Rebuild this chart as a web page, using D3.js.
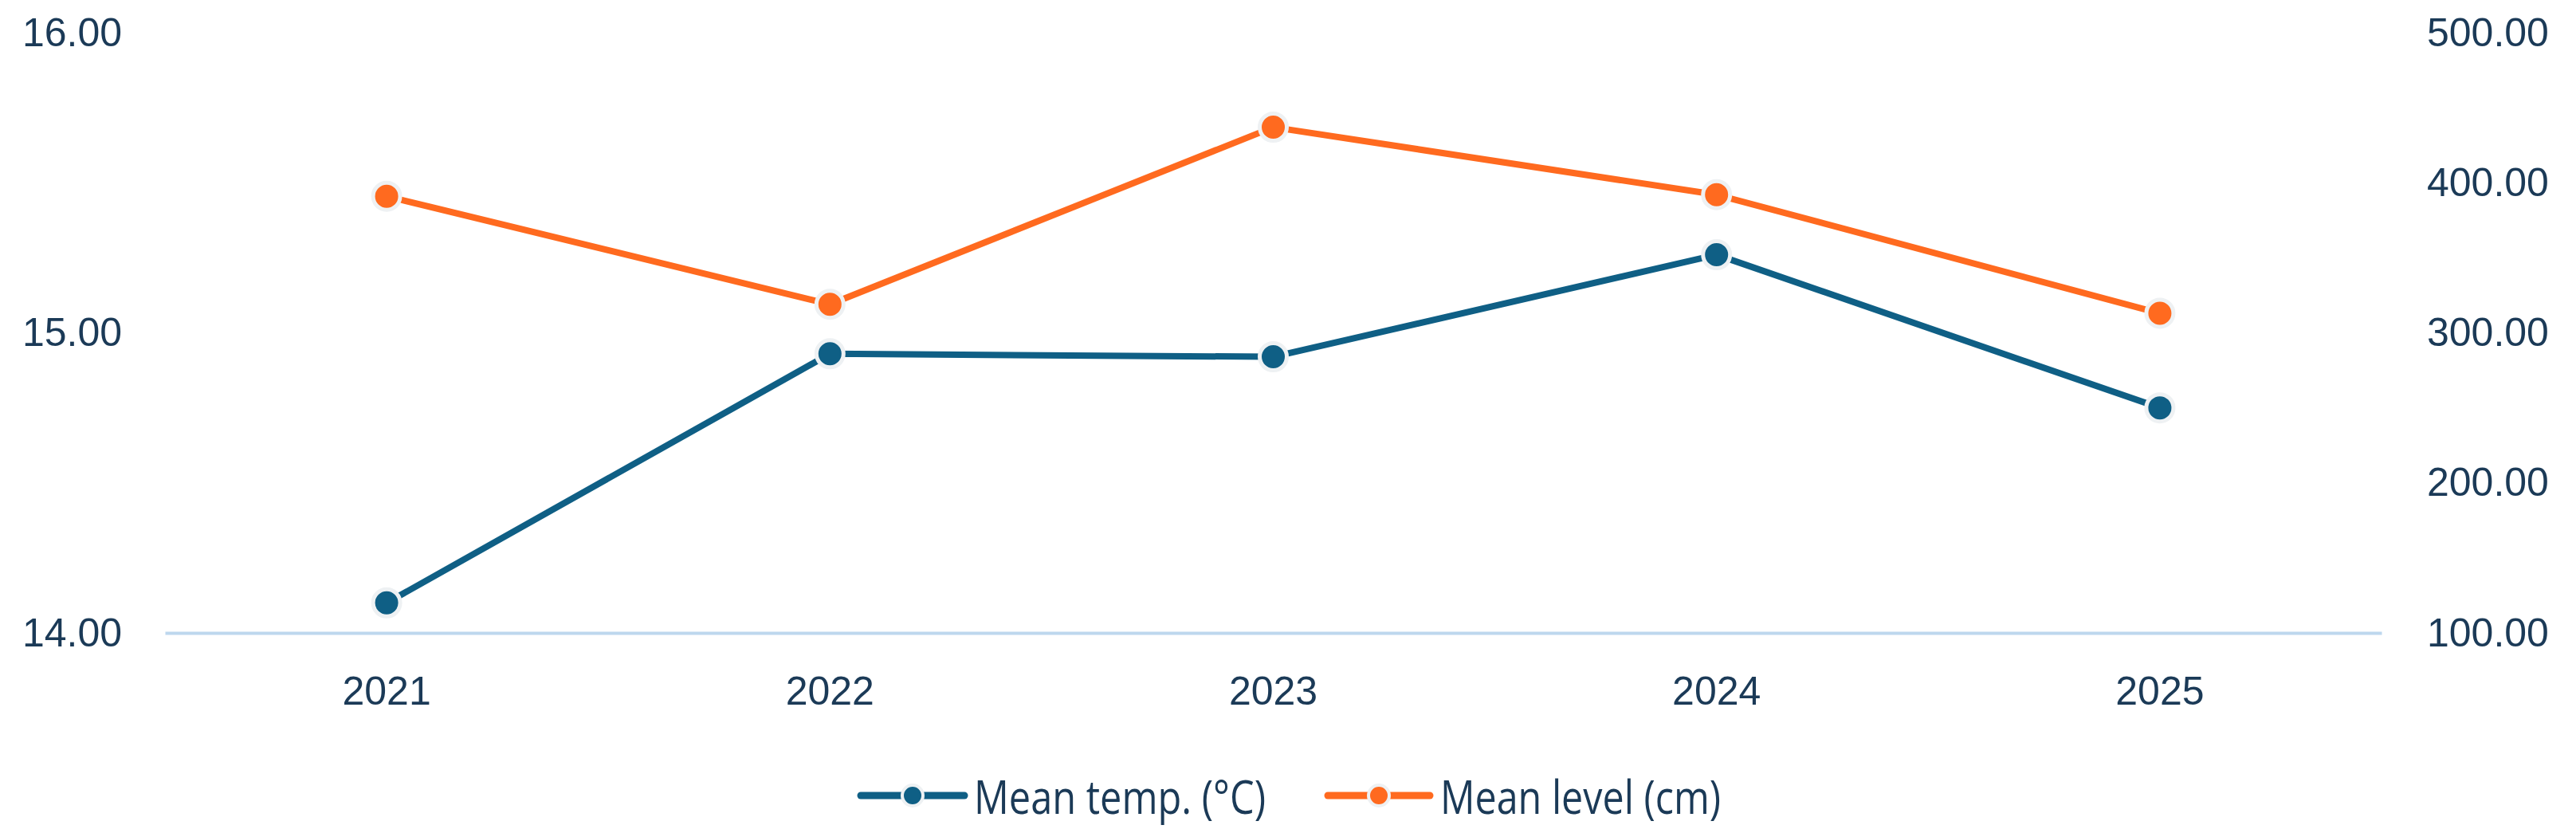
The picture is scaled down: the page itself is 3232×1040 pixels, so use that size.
<!DOCTYPE html>
<html>
<head>
<meta charset="utf-8">
<script src="https://cdn.jsdelivr.net/npm/d3@7"></script>
<style>
  html, body { margin: 0; padding: 0; background: #ffffff; }
  svg { display: block; }
</style>
</head>
<body>
<div id="chart"></div>
<script>
const years = ["2021", "2022", "2023", "2024", "2025"];
const meanTemp = [14.10, 14.93, 14.92, 15.26, 14.75];
const meanLevel = [391, 319, 437, 392, 313];
const leftTicks = [14, 15, 16];
const rightTicks = [100, 200, 300, 400, 500];
const seriesNames = ["Mean temp. (\u00B0C)", "Mean level (cm)"];

const W = 3232, H = 1040;
const plot = { left: 207, right: 2988, top: 41, bottom: 794 };
const blue = "#0f5f85", orange = "#ff6a1f";
const textColor = "#1b3a57";

const svg = d3.select("#chart").append("svg")
  .attr("width", W).attr("height", H)
  .style("font-family", "'Liberation Sans', Arial, sans-serif");

const x = d3.scaleBand().domain(years).range([plot.left, plot.right]);
const cx = d => x(d) + x.bandwidth() / 2;
const yL = d3.scaleLinear().domain([14, 16]).range([plot.bottom, plot.top]);
const yR = d3.scaleLinear().domain([100, 500]).range([plot.bottom, plot.top]);

// Left axis
const gL = svg.append("g").attr("transform", `translate(${plot.left},0)`)
  .call(d3.axisLeft(yL).tickValues(leftTicks).tickFormat(d3.format(".2f")).tickSize(0).tickPadding(54));
gL.select(".domain").remove();
gL.selectAll("text").attr("font-size", 50).attr("fill", textColor)
  .attr("font-family", "'Liberation Sans', Arial, sans-serif");

// Right axis
const gR = svg.append("g").attr("transform", `translate(${plot.right},0)`)
  .call(d3.axisRight(yR).tickValues(rightTicks).tickFormat(d3.format(".2f")).tickSize(0).tickPadding(57));
gR.select(".domain").remove();
gR.selectAll("text").attr("font-size", 50).attr("fill", textColor)
  .attr("font-family", "'Liberation Sans', Arial, sans-serif");

// Bottom axis
const gB = svg.append("g").attr("transform", `translate(0,${plot.bottom})`)
  .call(d3.axisBottom(x).tickSize(0).tickPadding(54));
gB.select(".domain").attr("stroke", "#bdd7ee").attr("stroke-width", 4);
gB.selectAll("text").attr("font-size", 50).attr("fill", textColor)
  .attr("font-family", "'Liberation Sans', Arial, sans-serif");

// Lines
const lineL = d3.line().x((d, i) => cx(years[i])).y(d => yL(d));
const lineR = d3.line().x((d, i) => cx(years[i])).y(d => yR(d));

function drawSeries(values, line, yScale, color) {
  svg.append("path").datum(values)
    .attr("d", line).attr("fill", "none")
    .attr("stroke", color).attr("stroke-width", 8)
    .attr("stroke-linejoin", "round");
  svg.append("g").selectAll("circle").data(values).join("circle")
    .attr("cx", (d, i) => cx(years[i]))
    .attr("cy", d => yScale(d))
    .attr("r", 17)
    .attr("fill", color)
    .attr("stroke", "#eef1f3").attr("stroke-width", 5);
}
drawSeries(meanLevel, lineR, yR, orange);
drawSeries(meanTemp, lineL, yL, blue);

// Legend
const legendY = 998;
const legendItems = [
  { name: seriesNames[0], color: blue, x0: 1080, x1: 1210, tx: 1222, tw: 366 },
  { name: seriesNames[1], color: orange, x0: 1666, x1: 1794, tx: 1807, tw: 352 }
];
const lg = svg.append("g");
legendItems.forEach(it => {
  lg.append("line").attr("x1", it.x0).attr("x2", it.x1)
    .attr("y1", legendY).attr("y2", legendY)
    .attr("stroke", it.color).attr("stroke-width", 9).attr("stroke-linecap", "round");
  lg.append("circle").attr("cx", (it.x0 + it.x1) / 2).attr("cy", legendY)
    .attr("r", 13).attr("fill", it.color)
    .attr("stroke", "#eef1f3").attr("stroke-width", 4);
  lg.append("text").attr("x", it.tx).attr("y", legendY)
    .attr("dominant-baseline", "central")
    .attr("font-size", 58).attr("fill", textColor)
    .attr("font-family", "'Open Sans', 'Noto Sans', sans-serif")
    .attr("textLength", it.tw).attr("lengthAdjust", "spacingAndGlyphs")
    .text(it.name);
});
</script>
</body>
</html>
